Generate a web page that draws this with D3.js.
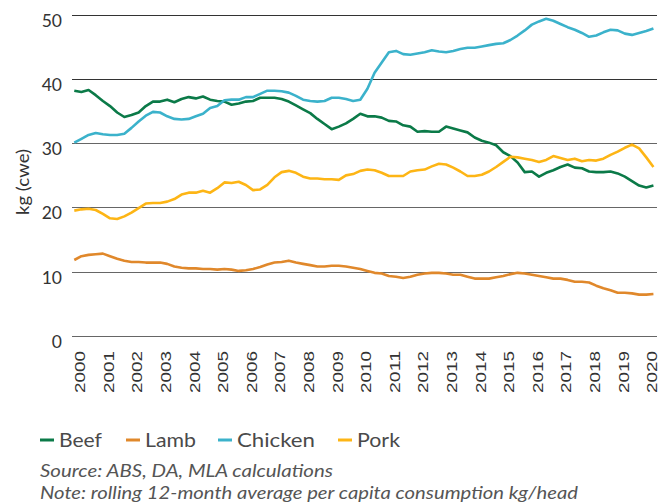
<!DOCTYPE html>
<html>
<head>
<meta charset="utf-8">
<script src="https://cdn.jsdelivr.net/npm/d3@7"></script>
<style>
  body { margin: 0; background: #fff; }
  svg { display: block; }
</style>
</head>
<body>
<div id="chart"></div>
<script>
// quarterly points, first one just before Jan 2000
const firstPeriod = 1999.8;
const periodStep = 0.25;

const yearTicks = d3.range(2000, 2021);
const yTicks = [0, 10, 20, 30, 40, 50];

const beef = [38.2, 38.0, 38.3, 37.5, 36.6, 35.8, 34.8, 34.1, 34.4, 34.8, 35.8, 36.5, 36.5, 36.8, 36.4, 36.9,
  37.2, 37.0, 37.3, 36.8, 36.6, 36.5, 36.0, 36.2, 36.5, 36.6, 37.1, 37.1, 37.1, 36.9, 36.5, 35.9,
  35.3, 34.7, 33.8, 33.0, 32.2, 32.6, 33.1, 33.8, 34.6, 34.2, 34.2, 34.0, 33.5, 33.4, 32.8, 32.6,
  31.8, 31.9, 31.8, 31.8, 32.6, 32.3, 32.0, 31.7, 30.9, 30.4, 30.1, 29.7, 28.6, 28.0, 27.0, 25.5,
  25.6, 24.8, 25.4, 25.8, 26.3, 26.7, 26.2, 26.1, 25.6, 25.5, 25.5, 25.6, 25.3, 24.8, 24.1, 23.4,
  23.1, 23.4];

const lamb = [11.8, 12.4, 12.6, 12.7, 12.8, 12.4, 12.0, 11.7, 11.5, 11.5, 11.4, 11.4, 11.4, 11.2, 10.8, 10.6,
  10.5, 10.5, 10.4, 10.4, 10.3, 10.4, 10.3, 10.1, 10.2, 10.4, 10.7, 11.1, 11.4, 11.5, 11.7, 11.4,
  11.2, 11.0, 10.8, 10.8, 10.9, 10.9, 10.8, 10.6, 10.4, 10.1, 9.8, 9.7, 9.3, 9.2, 9.0, 9.2,
  9.5, 9.7, 9.8, 9.8, 9.7, 9.5, 9.5, 9.2, 8.9, 8.9, 8.9, 9.1, 9.3, 9.6, 9.8, 9.7,
  9.5, 9.3, 9.1, 8.9, 8.9, 8.7, 8.4, 8.4, 8.3, 7.8, 7.4, 7.1, 6.7, 6.7, 6.6, 6.4,
  6.4, 6.5];

const chicken = [30.1, 30.7, 31.3, 31.6, 31.4, 31.3, 31.3, 31.5, 32.4, 33.4, 34.3, 34.9, 34.8, 34.2, 33.8, 33.7,
  33.8, 34.2, 34.6, 35.5, 35.8, 36.7, 36.8, 36.8, 37.2, 37.2, 37.7, 38.2, 38.2, 38.1, 37.9, 37.4,
  36.8, 36.6, 36.5, 36.6, 37.1, 37.1, 36.9, 36.6, 36.8, 38.5, 41.0, 42.6, 44.2, 44.4, 43.9, 43.8,
  44.0, 44.2, 44.5, 44.3, 44.2, 44.4, 44.7, 44.9, 44.9, 45.1, 45.3, 45.5, 45.6, 46.1, 46.8, 47.6,
  48.5, 49.0, 49.4, 49.1, 48.6, 48.1, 47.7, 47.2, 46.6, 46.8, 47.3, 47.7, 47.6, 47.1, 46.9, 47.2,
  47.5, 47.9];

const pork = [19.5, 19.7, 19.8, 19.6, 19.0, 18.3, 18.2, 18.6, 19.2, 19.9, 20.6, 20.7, 20.7, 20.9, 21.3, 22.0,
  22.3, 22.3, 22.6, 22.3, 23.0, 23.9, 23.8, 24.0, 23.5, 22.7, 22.8, 23.5, 24.7, 25.5, 25.7, 25.4,
  24.8, 24.5, 24.5, 24.4, 24.4, 24.3, 25.0, 25.2, 25.7, 25.9, 25.8, 25.4, 24.9, 24.9, 24.9, 25.6,
  25.8, 25.9, 26.4, 26.8, 26.7, 26.2, 25.6, 24.9, 24.9, 25.1, 25.6, 26.3, 27.1, 27.9, 27.8, 27.6,
  27.4, 27.1, 27.4, 28.0, 27.7, 27.4, 27.6, 27.2, 27.4, 27.3, 27.6, 28.2, 28.7, 29.3, 29.8, 29.2,
  27.8, 26.3];

const seriesNames = ['Beef', 'Lamb', 'Chicken', 'Pork'];
const seriesValues = [beef, lamb, chicken, pork];
const seriesColors = ['#0b7a48', '#e0882b', '#3bb2cb', '#fdb515'];

const width = 662, height = 504;
const left = 72, right = 657;

const svg = d3.select('#chart').append('svg')
  .attr('width', width)
  .attr('height', height)
  .style('font-family', 'Lato, "Open Sans", sans-serif');

const x = d3.scaleLinear().domain([2000, 2020]).range([80, 652]);
const y = d3.scaleLinear().domain([0, 50]).range([335.7, 15]);

// gridlines + y labels
const grid = svg.append('g');
grid.selectAll('line')
  .data(yTicks)
  .join('line')
  .attr('x1', left)
  .attr('x2', right)
  .attr('y1', d => Math.round(y(d)) + 0.5)
  .attr('y2', d => Math.round(y(d)) + 0.5)
  .attr('stroke', d => d >= 40 ? '#333' : '#666')
  .attr('stroke-width', 1.2);

grid.selectAll('text')
  .data(yTicks)
  .join('text')
  .attr('x', 62)
  .attr('y', d => y(d) + 12)
  .attr('text-anchor', 'end')
  .attr('fill', '#333')
  .style('font-size', '17.5px')
  .text(d => d);

svg.append('text')
  .attr('transform', 'translate(29,182) rotate(-90)')
  .attr('text-anchor', 'middle')
  .attr('fill', '#333')
  .attr('textLength', 66)
  .attr('lengthAdjust', 'spacingAndGlyphs')
  .style('font-size', '17px')
  .text('kg (cwe)');

// year labels, rotated
svg.append('g')
  .selectAll('text')
  .data(yearTicks)
  .join('text')
  .attr('transform', d => `translate(${x(d)},351) rotate(-90)`)
  .attr('text-anchor', 'end')
  .attr('dy', '0.36em')
  .attr('fill', '#333')
  .attr('textLength', 42)
  .attr('lengthAdjust', 'spacingAndGlyphs')
  .style('font-family', '"Liberation Sans", Arial, sans-serif')
  .style('font-size', '14.5px')
  .text(d => d);

// lines
const line = d3.line()
  .x((d, i) => x(firstPeriod + i * periodStep))
  .y(d => y(d));

svg.append('g')
  .selectAll('path')
  .data(seriesValues)
  .join('path')
  .attr('d', d => line(d))
  .attr('fill', 'none')
  .attr('stroke', (d, i) => seriesColors[i])
  .attr('stroke-width', 2.6)
  .attr('stroke-linejoin', 'round');

// legend
const legendX = [40, 126, 218, 338];
const legendTextW = [43, 51, 78, 43];
const legend = svg.append('g')
  .selectAll('g')
  .data(seriesNames)
  .join('g')
  .attr('transform', (d, i) => `translate(${legendX[i]},440)`);

legend.append('line')
  .attr('x1', 0).attr('x2', 14)
  .attr('stroke', (d, i) => seriesColors[i])
  .attr('stroke-width', 3);

legend.append('text')
  .attr('x', 19)
  .attr('y', 7)
  .attr('fill', '#4a4a4a')
  .attr('textLength', (d, i) => legendTextW[i])
  .attr('lengthAdjust', 'spacingAndGlyphs')
  .style('font-size', '20px')
  .text(d => d);

// source + note
const notes = ['Source: ABS, DA, MLA calculations', 'Note: rolling 12-month average per capita consumption kg/head'];
const noteW = [293, 538];
svg.append('g')
  .selectAll('text')
  .data(notes)
  .join('text')
  .attr('x', 40)
  .attr('y', (d, i) => 477 + i * 22)
  .attr('fill', '#555')
  .attr('textLength', (d, i) => noteW[i])
  .attr('lengthAdjust', 'spacingAndGlyphs')
  .style('font-size', '18px')
  .style('font-style', 'italic')
  .text(d => d);
</script>
</body>
</html>
